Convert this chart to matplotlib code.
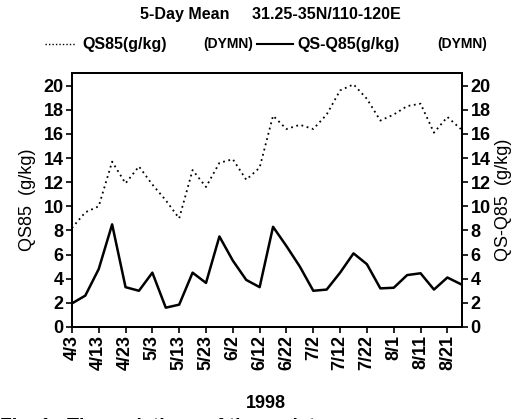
import matplotlib
matplotlib.use("Agg")
import matplotlib.pyplot as plt
from matplotlib.lines import Line2D
import numpy as np

plt.rcParams['font.family'] = ['Liberation Sans', 'DejaVu Sans']
plt.rcParams['font.weight'] = 'bold'

# 5-day means, 1998, starting 4/3
days = np.arange(0, 150, 5)
qs85 = [8.2, 9.5, 10.0, 13.7, 11.9, 13.3, 11.8, 10.5, 9.0, 13.0,
        11.6, 13.6, 13.9, 12.2, 13.2, 17.5, 16.4, 16.75, 16.4, 17.6,
        19.6, 20.1, 18.9, 17.1, 17.6, 18.3, 18.5, 16.1, 17.4, 16.4]
qs_q85 = [1.95, 2.6, 4.8, 8.5, 3.3, 3.0, 4.5, 1.6, 1.85, 4.5,
          3.65, 7.5, 5.5, 3.9, 3.3, 8.3, 6.7, 5.0, 3.0, 3.1,
          4.5, 6.1, 5.2, 3.2, 3.25, 4.3, 4.45, 3.1, 4.1, 3.55]

tick_days = np.arange(0, 150, 10)
tick_labels = ['4/3', '4/13', '4/23', '5/3', '5/13', '5/23', '6/2', '6/12',
               '6/22', '7/2', '7/12', '7/22', '8/1', '8/11', '8/21']
yticks = np.arange(0, 21, 2)

fig = plt.figure(figsize=(5.21, 4.19), dpi=100)
ax = fig.add_axes([0.138, 0.2196, 0.749, 0.6064])
ax2 = ax.twinx()

ax.plot(days, qs85, color='black', lw=1.3, linestyle=(0, (1, 2)))
ax2.plot(days, qs_q85, color='black', lw=1.8)

for a in (ax, ax2):
    a.set_xlim(0, 145.5)
    a.set_ylim(0, 21.05)
    a.set_yticks(yticks)
    a.tick_params(axis='both', direction='out', length=4, width=1.2,
                  labelsize=13, pad=2)
    for s in a.spines.values():
        s.set_linewidth(1.4)

ax.set_xticks(tick_days)
ax.set_xticklabels(tick_labels, rotation=90, fontsize=13)
ax.set_ylabel('QS85  (g/kg)', fontsize=13, labelpad=5)
ax2.set_ylabel('QS-Q85  (g/kg)', fontsize=13, labelpad=3)

fig.text(0.518, 1 - 15 / 419, '5-Day Mean     31.25-35N/110-120E', ha='center',
         va='center', fontsize=11.5)

# legend row
ly = 1 - 44 / 419
fig.add_artist(Line2D([45 / 521, 75 / 521], [ly, ly], color='black', lw=1.0,
                      linestyle=(0, (1, 1.5))))
fig.text(82 / 521, ly, 'QS85(g/kg)', va='center', fontsize=11.5)
fig.text(203 / 521, ly, '(DYMN)', va='center', fontsize=10)
fig.add_artist(Line2D([257 / 521, 293 / 521], [ly, ly], color='black', lw=1.5))
fig.text(297 / 521, ly, 'QS-Q85(g/kg)', va='center', fontsize=11.5)
fig.text(437 / 521, ly, '(DYMN)', va='center', fontsize=10)

fig.text(266 / 521, 1 - 403.5 / 419, '1998', ha='center', va='center', fontsize=13)
fig.text(0.0, -12 / 419, 'Fig. 1   The variations of the moisture',
         ha='left', va='baseline', fontsize=14)

fig.savefig('out.png', dpi=100)
